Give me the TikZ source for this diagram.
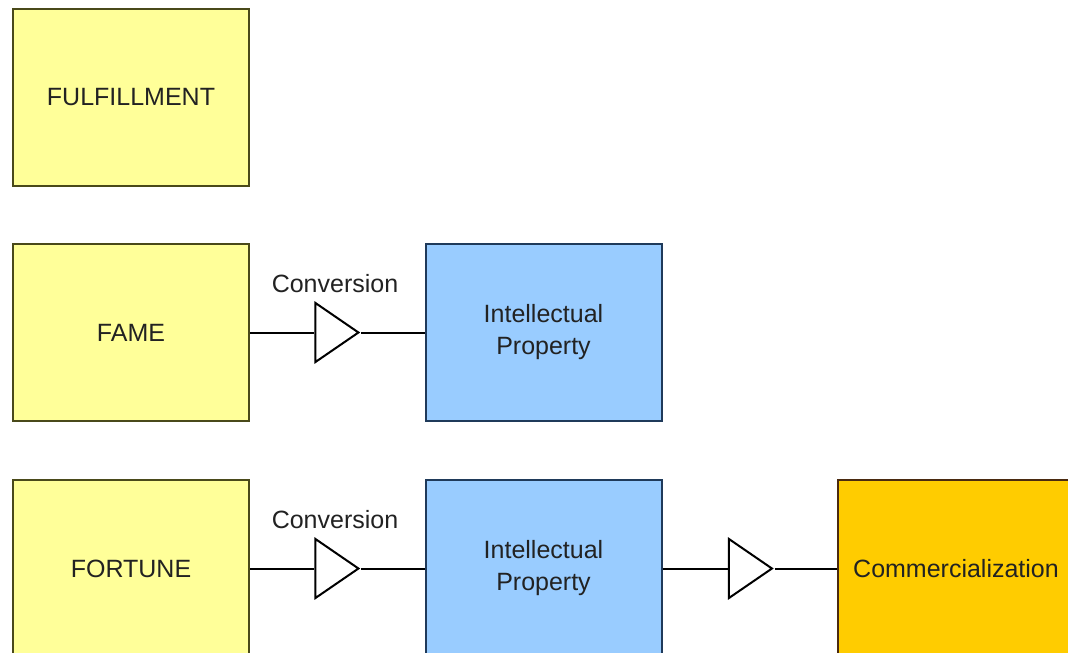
\documentclass[tikz,border=0pt]{standalone}
\usepackage{fontspec}
\setmainfont{Liberation Sans}
\usetikzlibrary{shapes.geometric}
\definecolor{famefill}{HTML}{FFFF99}
\definecolor{fameline}{HTML}{4A4A1A}
\definecolor{ipfill}{HTML}{99CCFF}
\definecolor{ipline}{HTML}{1F3A5A}
\definecolor{commfill}{HTML}{FFCC00}
\definecolor{commline}{HTML}{4A2A10}
\definecolor{txtdark}{HTML}{222222}
\tikzset{
  stage/.style={draw=fameline, fill=famefill, line width=2pt, minimum width=236pt,
    minimum height=177pt, inner sep=0pt, align=center, text=txtdark,
    font=\fontsize{25}{32}\selectfont},
  ipbox/.style={stage, draw=ipline, fill=ipfill},
  commbox/.style={stage, draw=commline, fill=commfill},
  gate/.style={draw=black, fill=white, line width=2pt, isosceles triangle,
    isosceles triangle stretches, minimum width=59pt, minimum height=43pt,
    inner sep=0pt},
  convlabel/.style={text=txtdark, font=\fontsize{25}{30}\selectfont, inner sep=0pt},
  link/.style={draw=black, line width=2pt}
}
\begin{document}
\begin{tikzpicture}[x=1pt,y=-1pt]
  \useasboundingbox (0,0) rectangle (1068,653);
  \clip (0,0) rectangle (1068,653);
  % stages
  \node[stage] (fulfil) at (131,97) {FULFILLMENT};
  \node[stage] (fame) at (131,332.5) {FAME};
  \node[ipbox] (ipa) at (543.5,332.5) {Intellectual\\Property};
  \node[stage] (fortune) at (131,568.5) {FORTUNE};
  \node[ipbox] (ipb) at (543.5,568.5) {Intellectual\\Property};
  \node[commbox] (comm) at (956,568.5) {Commercialization};
  % conversion gates
  \node[gate] (gatea) at (331,332.5) {};
  \node[gate] (gateb) at (331,568.5) {};
  \node[gate] (gatec) at (744.5,568.5) {};
  \node[convlabel] (lbla) at (335,284) {Conversion};
  \node[convlabel] (lblb) at (335,520) {Conversion};
  \draw[link] (fame.east) -- (gatea.west);
  \draw[link] (gatea.apex) -- (ipa.west);
  \draw[link] (fortune.east) -- (gateb.west);
  \draw[link] (gateb.apex) -- (ipb.west);
  \draw[link] (ipb.east) -- (gatec.west);
  \draw[link] (gatec.apex) -- (comm.west);
\end{tikzpicture}
\end{document}
